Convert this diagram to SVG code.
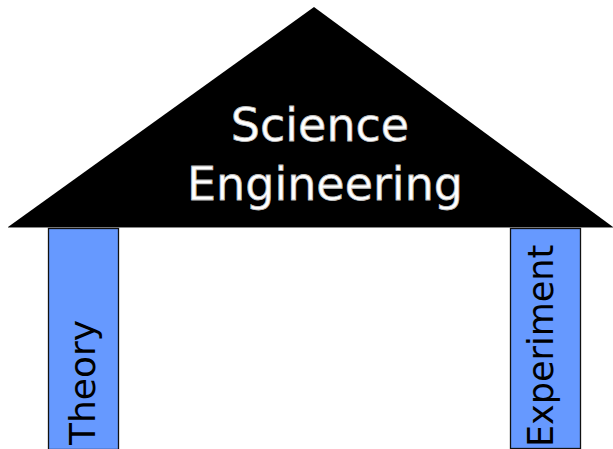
<svg xmlns="http://www.w3.org/2000/svg" width="613" height="449" viewBox="0 0 613 449">
<style>
.pillar{fill:#6699ff;stroke:#111;stroke-width:1.3}
.lbl{font-family:"DejaVu Sans",Verdana,sans-serif;fill:#000}
.roof-lbl{font-family:"DejaVu Sans",Verdana,sans-serif;fill:#fff;stroke:#bbb;stroke-width:0.8;font-size:46px;text-anchor:middle}
</style>
<rect width="613" height="449" fill="#fff"/>
<g id="roof">
<polygon points="8,227 314,7 613,227" fill="#000"/>
<line x1="8" y1="227.5" x2="613" y2="227.5" stroke="#888" stroke-width="1"/>
<text class="roof-lbl" x="320" y="141">Science</text>
<text class="roof-lbl" x="325" y="200">Engineering</text>
</g>
<g id="theory">
<rect class="pillar" x="48.5" y="228.5" width="70" height="221"/>
<text class="lbl" font-size="36" transform="translate(95,445) rotate(-90)">Theory</text>
</g>
<g id="experiment">
<rect class="pillar" x="510.5" y="228.5" width="70" height="220"/>
<text class="lbl" font-size="35" transform="translate(553,447) rotate(-90)">Experiment</text>
</g>
<g id="connectors"></g>
</svg>
